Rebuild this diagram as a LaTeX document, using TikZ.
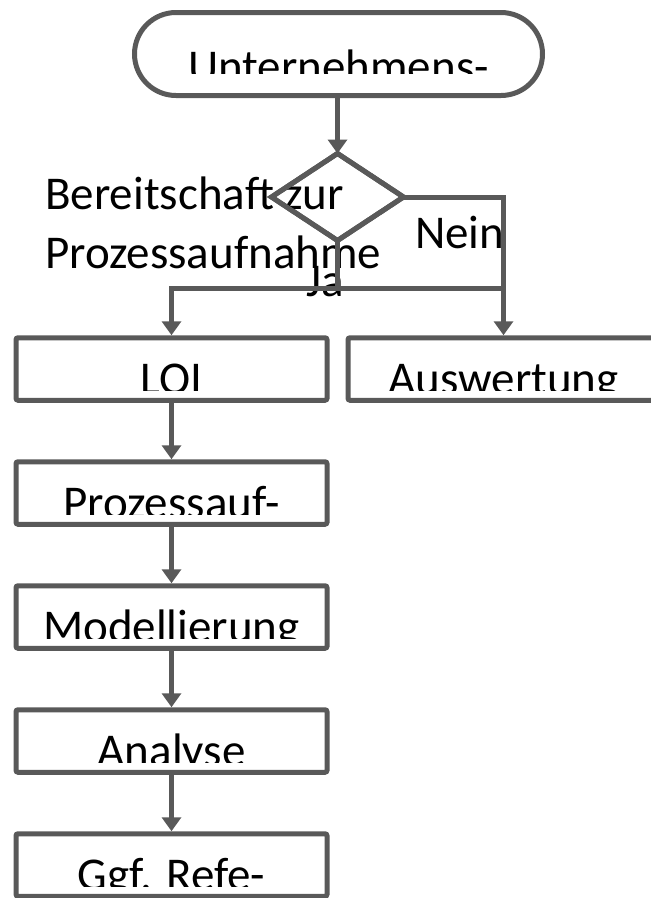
\documentclass[tikz,border=0pt]{standalone}
\usepackage{fontspec}
\setmainfont{Carlito}
\usetikzlibrary{arrows.meta,shapes.geometric}
\definecolor{linegray}{RGB}{89,89,89}

\begin{document}
\begin{tikzpicture}[x=1pt,y=-1pt,
  conn/.style={draw=linegray,line width=5pt},
  arr/.style={conn,-{Triangle[length=14pt,width=19pt]}},
  stepbox/.style={draw=linegray,fill=white,line width=5pt,rounded corners=2pt,
    minimum width=311pt,minimum height=62.5pt,inner sep=0pt},
  terminal/.style={draw=linegray,fill=white,line width=5pt,rounded corners=41.5pt,
    minimum width=408pt,minimum height=83pt,inner sep=0pt},
  decision/.style={diamond,draw=linegray,line width=5pt,minimum width=132pt,
    minimum height=87pt,inner sep=0pt,outer sep=0pt},
  lbl/.style={font=\fontsize{47}{57}\selectfont,inner sep=0pt,anchor=base},
  freelbl/.style={font=\fontsize{47}{57}\selectfont,inner sep=0pt,anchor=base west},
]
\useasboundingbox (0,0) rectangle (651,898);

% shapes
\node[terminal] (start) at (338.5,54) {};
\node[decision] (dec) at (337.5,197) {};
\node[stepbox] (loi)   at (171.5,369) {};
\node[stepbox] (ausw)  at (503.5,369) {};
\node[stepbox] (proc)  at (171.5,493) {};
\node[stepbox] (model) at (171.5,617) {};
\node[stepbox] (anal)  at (171.5,741) {};
\node[stepbox] (ref)   at (171.5,865) {};

% texts, cut off at the bottom of each text area
\begin{scope}
  \clip (start.north west) rectangle (start.east |- 0,73);
  \node[lbl] (startText) at (338.5,82) {Unternehmens-};
\end{scope}
\foreach \b/\t in {loi/LOI,ausw/Auswertung,proc/Prozessauf-,model/Modellierung,anal/Analyse,ref/Ggf. Refe-}{
  \begin{scope}
    \clip (\b.north west) rectangle ([yshift=-55pt]\b.north east);
    \node[lbl] (\b Text) at ([yshift=-59pt]\b.north) {\t};
  \end{scope}
}

% branch labels
\node[freelbl] (q1) at (45,209) {Bereitschaft zur};
\node[freelbl] (q2) at (45,268) {Prozessaufnahme};
\node[freelbl] (nein) at (415,248) {Nein};
\node[lbl] (ja) at (325.5,296) {Ja};

% redraw the decision on top of its label
\node[decision] at (dec) {};

% connectors
\coordinate (jaJoin) at (337.5,288);
\draw[arr] (start.south -| dec.north) -- (dec.north);
\draw[arr] (dec.east) -| (ausw.north);
\draw[conn] (dec.south) -- (jaJoin);
\draw[arr] (jaJoin) -| (loi.north);
\draw[conn] (jaJoin) -- (jaJoin -| ausw.north);
\draw[arr] (loi.south) -- (proc.north);
\draw[arr] (proc.south) -- (model.north);
\draw[arr] (model.south) -- (anal.north);
\draw[arr] (anal.south) -- (ref.north);
\end{tikzpicture}
\end{document}
